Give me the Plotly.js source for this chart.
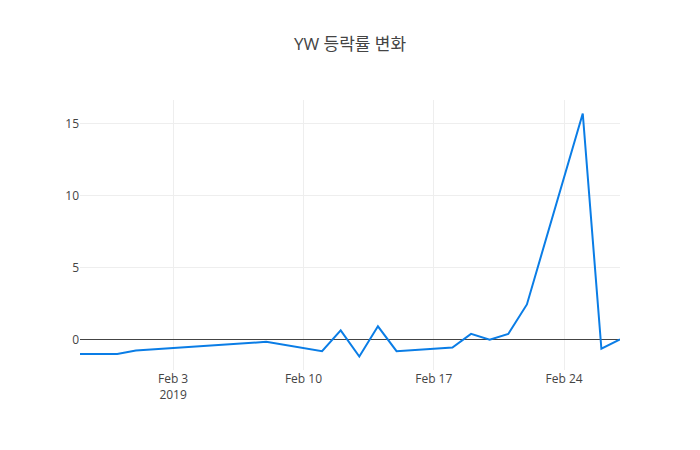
<!DOCTYPE html>
<html>
<head>
<meta charset="utf-8">
<script src="https://cdn.plot.ly/plotly-3.0.1.min.js"></script>
<style>html,body{margin:0;padding:0;}#chart{width:700px;height:450px;}</style>
</head>
<body>
<div id="chart"></div>
<script>
const dates = ["2019-01-29","2019-01-31","2019-02-01","2019-02-08","2019-02-11","2019-02-12","2019-02-13","2019-02-14","2019-02-15","2019-02-18","2019-02-19","2019-02-20","2019-02-21","2019-02-22","2019-02-25","2019-02-26","2019-02-27"];
const rates = [-1.02,-1.02,-0.78,-0.17,-0.82,0.63,-1.19,0.91,-0.82,-0.57,0.38,-0.02,0.38,2.43,15.7,-0.65,0.0];
const chartTitle = "YW 등락률 변화";

Plotly.newPlot("chart", [{
  x: dates,
  y: rates,
  type: "scatter",
  mode: "lines",
  line: {color: "rgb(10,125,230)", width: 2}
}], {
  width: 700,
  height: 450,
  title: {text: chartTitle, font: {size: 17, color: "#444"}},
  font: {family: "'Open Sans', 'Noto Sans CJK KR', sans-serif", color: "#444"},
  xaxis: {type: "date", showgrid: true, gridcolor: "#eee"},
  yaxis: {showgrid: true, gridcolor: "#eee", zeroline: true, zerolinecolor: "#444", zerolinewidth: 1},
  paper_bgcolor: "#fff",
  plot_bgcolor: "#fff",
  showlegend: false
}, {displayModeBar: false});
</script>
</body>
</html>
